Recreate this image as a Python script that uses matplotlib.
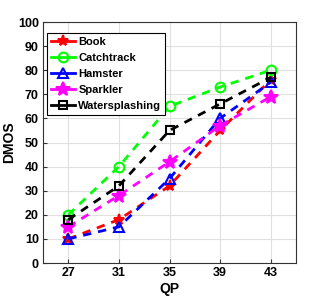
import matplotlib
matplotlib.use("Agg")
import matplotlib.pyplot as plt
from matplotlib import font_manager

names = {f.name for f in font_manager.fontManager.ttflist}
fam = 'Liberation Sans Narrow' if 'Liberation Sans Narrow' in names else 'Liberation Sans'
plt.rcParams['font.family'] = [fam, 'DejaVu Sans']
plt.rcParams['font.weight'] = 'bold'

qp = [27, 31, 35, 39, 43]
book = [10, 18, 32, 55, 76]
catchtrack = [20, 40, 65, 73, 80]
hamster = [10, 15, 35, 60, 75]
sparkler = [15, 28, 42, 57, 69]
watersplashing = [18, 32, 55, 66, 77]

series = [
    ("Book", book, "#ff0000", "*", "#ff0000", 8),
    ("Catchtrack", catchtrack, "#00ff00", "o", "none", 7),
    ("Hamster", hamster, "#0000ff", "^", "none", 7),
    ("Sparkler", sparkler, "#ff00ff", "*", "#ff00ff", 10),
    ("Watersplashing", watersplashing, "#000000", "s", "none", 6),
]

fig = plt.figure(figsize=(3.27, 3.05), dpi=100)
ax = fig.add_axes([43/327, 1-263/305, (296-43)/327, (263-22)/305])
for name, vals, c, m, fc, ms in series:
    ax.plot(qp, vals, linestyle=(0, (3, 2.5)), color=c, lw=2, marker=m,
            markersize=ms, markerfacecolor=fc, markeredgecolor=c, markeredgewidth=1.5,
            label=name)

ax.set_xlim(25, 45)
ax.set_ylim(0, 100)
ax.set_xticks(qp)
ax.set_yticks(range(0, 101, 10))
ax.grid(True, color="#e0e0e0", lw=0.8)
ax.set_axisbelow(True)
ax.tick_params(direction="in", labelsize=9, length=3, color="#333333", pad=3)
for s in ax.spines.values():
    s.set_color("#333333")
ax.set_xlabel("QP", fontsize=10, fontweight="bold", labelpad=2)
ax.set_ylabel("DMOS", fontsize=10, fontweight="bold", labelpad=1)
leg = ax.legend(loc="upper left", bbox_to_anchor=(0.015, 0.955), fontsize=8,
                frameon=True, fancybox=False, edgecolor="#000000", framealpha=1,
                handlelength=2.2, borderpad=0.35, labelspacing=0.55, handletextpad=0.3,
                borderaxespad=0)
leg.get_frame().set_linewidth(0.8)
for h in leg.get_lines():
    h.set_linestyle("-")
fig.savefig("out.png", dpi=100)
